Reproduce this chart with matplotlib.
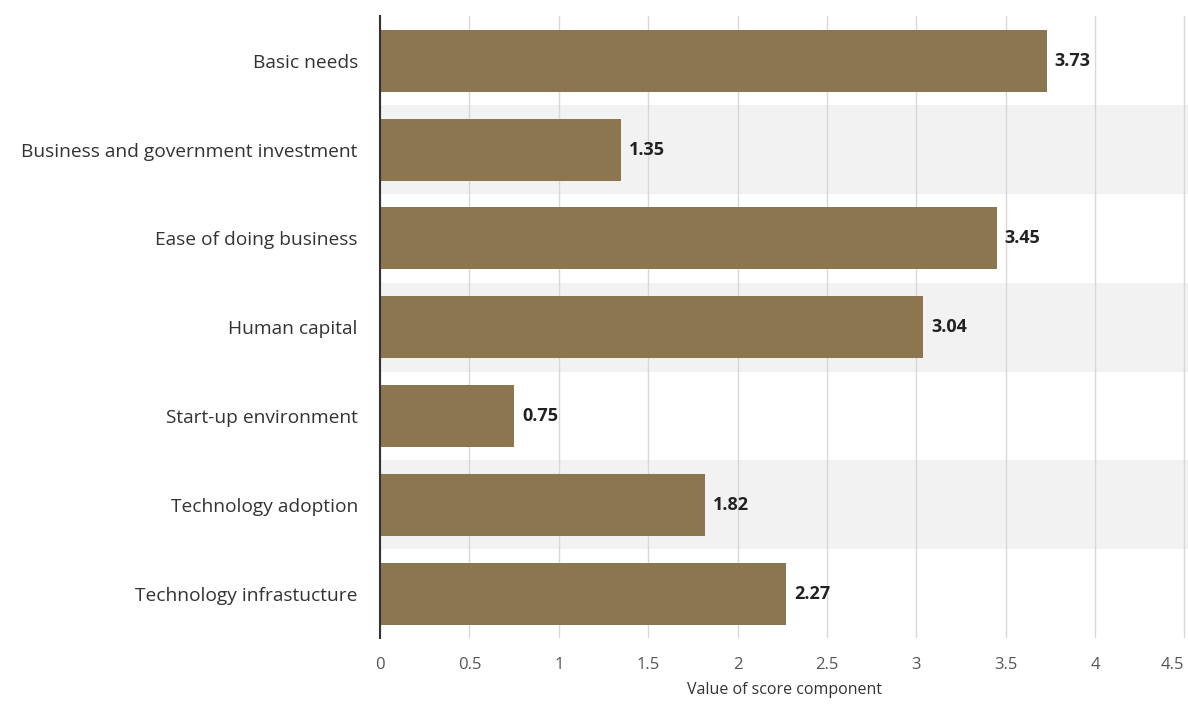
import matplotlib
matplotlib.use("Agg")

import matplotlib.pyplot as plt

# score components and their values
categories = [
    "Basic needs",
    "Business and government investment",
    "Ease of doing business",
    "Human capital",
    "Start-up environment",
    "Technology adoption",
    "Technology infrastucture",
]
values = [3.73, 1.35, 3.45, 3.04, 0.75, 1.82, 2.27]
xticks = [0, 0.5, 1, 1.5, 2, 2.5, 3, 3.5, 4, 4.5]
xtick_labels = ["0", "0.5", "1", "1.5", "2", "2.5", "3", "3.5", "4", "4.5"]

BAR_COLOR = "#8b7650"
BAND_COLOR = "#f2f2f2"

plt.rcParams["font.family"] = ["Open Sans", "DejaVu Sans"]

fig = plt.figure(figsize=(11.88, 7.04), dpi=100)
ax = fig.add_axes([0.3199, 0.0937, 0.6801, 0.883])

ypos = list(range(len(categories)))

# alternating row shading
for i in ypos:
    if i % 2 == 1:
        ax.axhspan(i - 0.5, i + 0.5, color=BAND_COLOR, zorder=0, lw=0)

ax.barh(ypos, values, height=0.7, color=BAR_COLOR, zorder=3)

for y, v in zip(ypos, values):
    ax.text(v + 0.045, y, f"{v:.2f}", va="center", ha="left",
            fontsize=13, fontweight="bold", color="#222222", zorder=4)

ax.set_ylim(len(categories) - 0.5, -0.5)
ax.set_xlim(0, 4.52)
ax.set_yticks(ypos)
ax.set_yticklabels(categories, fontsize=13.8, color="#333333")
ax.set_xticks(xticks)
ax.set_xticklabels(xtick_labels, fontsize=12, color="#555555")
# keep the last tick label inside the figure
ax.get_xticklabels()[-1].set_horizontalalignment("right")
ax.set_xlabel("Value of score component", fontsize=11.5, color="#333333", labelpad=6)

ax.xaxis.grid(True, color="#d8d8d8", lw=1, zorder=1)
ax.set_axisbelow(True)
ax.tick_params(axis="x", length=0, pad=14)
ax.tick_params(axis="y", length=0, pad=16)

for side in ["top", "right", "bottom"]:
    ax.spines[side].set_visible(False)
ax.spines["left"].set_color("#333333")
ax.spines["left"].set_linewidth(1.5)
ax.spines["left"].set_zorder(5)

fig.savefig("out.png", dpi=100)
